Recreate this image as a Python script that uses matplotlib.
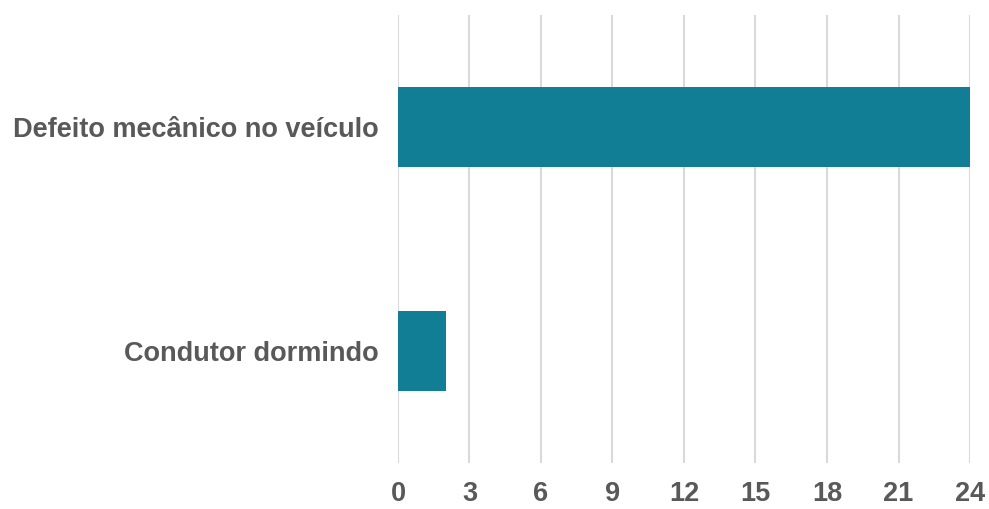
import matplotlib.pyplot as plt

plt.rcParams['font.family'] = ['Liberation Sans', 'DejaVu Sans']

categorias = ["Condutor dormindo", "Defeito mecânico no veículo"]
valores = [2, 24]
ticks = [0, 3, 6, 9, 12, 15, 18, 21, 24]

fig = plt.figure(figsize=(9.89, 5.09), dpi=100)
ax = fig.add_axes([0.4024, 0.0904, 0.5784, 0.8801])

ax.barh(range(len(categorias)), valores, height=0.36, color="#117e96", zorder=2)

ax.set_xlim(0, 24)
ax.set_ylim(-0.5, 1.5)
ax.set_xticks(ticks)
ax.set_xticklabels([str(t) for t in ticks], fontsize=19.5, fontweight="bold", color="#595959")
ax.set_yticks(range(len(categorias)))
ax.set_yticklabels(categorias, fontsize=19.5, fontweight="bold", color="#595959")
ax.tick_params(axis="both", length=0)
ax.tick_params(axis="x", pad=13)
ax.tick_params(axis="y", pad=14)

ax.grid(axis="x", color="#d9d9d9", linewidth=1.5, zorder=0)
for s in ax.spines.values():
    s.set_visible(False)

fig.savefig("out.png", dpi=100)
